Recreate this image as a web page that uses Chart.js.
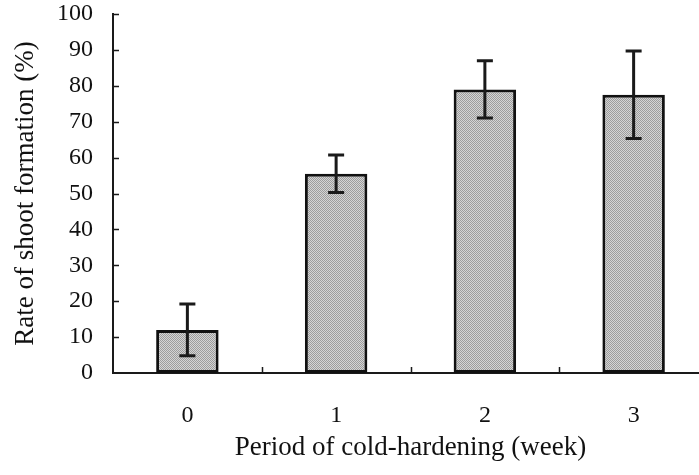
<!DOCTYPE html>
<html>
<head>
<meta charset="utf-8">
<script src="https://cdn.jsdelivr.net/npm/chart.js@4"></script>
<style>
  html, body { margin: 0; padding: 0; overflow: hidden; background: #fff; }
  canvas { display: block; }
</style>
</head>
<body>
<canvas id="shootChart" width="709" height="475"></canvas>
<script>
// weeks of cold-hardening
const weeks = ["0", "1", "2", "3"];
// mean rate of shoot formation (%)
const rates = [12, 55.5, 79, 77.5];
// standard error, +/- around the mean
const errors = [7.2, 5.2, 8, 12.2];
const yTicks = [0, 10, 20, 30, 40, 50, 60, 70, 80, 90, 100];

const serif = "'Liberation Serif', 'DejaVu Serif', serif";

// checker dither for the bar fill
let makeFill = function(){
    let c = document.createElement("canvas");
    c.width = 2; c.height = 2;
    let g = c.getContext("2d");
    g.fillStyle = "#d4d4d4"; g.fillRect(0, 0, 2, 2);
    g.fillStyle = "#9c9c9c"; g.fillRect(0, 0, 1, 1); g.fillRect(1, 1, 1, 1);
    return g.createPattern(c, "repeat");
}

// error bars with flat caps
let errorBars = {
    id: "errorBars",
    afterDatasetsDraw: function(chart){
        let ctx = chart.ctx;
        let y = chart.scales.y;
        let meta = chart.getDatasetMeta(0);
        ctx.save();
        ctx.strokeStyle = "#1a1a1a";
        ctx.lineWidth = 3;
        meta.data.forEach(function(bar, i){
            let top = y.getPixelForValue(rates[i] + errors[i]);
            let bot = y.getPixelForValue(rates[i] - errors[i]);
            ctx.beginPath();
            ctx.moveTo(bar.x, top); ctx.lineTo(bar.x, bot);
            ctx.moveTo(bar.x - 8, top); ctx.lineTo(bar.x + 8, top);
            ctx.moveTo(bar.x - 8, bot); ctx.lineTo(bar.x + 8, bot);
            ctx.stroke();
        });
        ctx.restore();
    }
};

// tick marks pointing into the plot
let innerTicks = {
    id: "innerTicks",
    afterDraw: function(chart){
        let ctx = chart.ctx;
        let x = chart.scales.x;
        let y = chart.scales.y;
        let area = chart.chartArea;
        ctx.save();
        ctx.strokeStyle = "#1a1a1a";
        ctx.lineWidth = 1.5;
        ctx.beginPath();
        for(let v of yTicks){
            if(v === 0) continue;
            let py = Math.round(y.getPixelForValue(v)) + 0.5;
            ctx.moveTo(area.left, py); ctx.lineTo(area.left + 6, py);
        }
        for(let i = 0; i < weeks.length; i++){
            let px = i < weeks.length - 1
                ? (x.getPixelForValue(i) + x.getPixelForValue(i + 1)) / 2
                : area.right;
            px = Math.round(px) + 0.5;
            ctx.moveTo(px, area.bottom); ctx.lineTo(px, area.bottom - 6);
        }
        ctx.stroke();
        ctx.restore();
    }
};

let ctx = document.getElementById("shootChart").getContext("2d");
let shootChart = new Chart(ctx, {
    type: "bar",
    data: {
        labels: weeks,
        datasets: [{
            data: rates,
            backgroundColor: makeFill(),
            borderColor: "#111",
            borderWidth: 3,
            borderSkipped: false,
            barPercentage: 0.42,
            categoryPercentage: 1
        }]
    },
    options: {
        responsive: false,
        animation: false,
        layout: { padding: { top: 14, right: 1, left: 0, bottom: 0 } },
        plugins: {
            legend: { display: false },
            tooltip: { enabled: false }
        },
        scales: {
            x: {
                grid: { display: false, drawTicks: false },
                border: { display: true, color: "#1a1a1a", width: 2 },
                ticks: {
                    color: "#111",
                    padding: 28,
                    font: { family: serif, size: 24 }
                },
                title: {
                    display: true,
                    text: "Period of cold-hardening (week)",
                    color: "#111",
                    font: { family: serif, size: 27 },
                    padding: { top: 0, bottom: 11 }
                },
                afterFit: function(scale){
                    scale.height = 102;
                    scale.paddingLeft = 0;
                    scale.paddingRight = 0;
                }
            },
            y: {
                min: 0,
                max: 100,
                grid: { display: false, drawTicks: false },
                border: { display: true, color: "#1a1a1a", width: 2 },
                ticks: {
                    stepSize: 10,
                    color: "#111",
                    padding: 20,
                    font: { family: serif, size: 24 }
                },
                title: {
                    display: true,
                    text: "Rate of shoot formation (%)",
                    color: "#111",
                    font: { family: serif, size: 27 },
                    padding: { top: 10, bottom: 0 }
                },
                afterFit: function(scale){
                    scale.width = 113;
                    scale.paddingTop = 0;
                    scale.paddingBottom = 0;
                }
            }
        }
    },
    plugins: [errorBars, innerTicks]
});
</script>
</body>
</html>
